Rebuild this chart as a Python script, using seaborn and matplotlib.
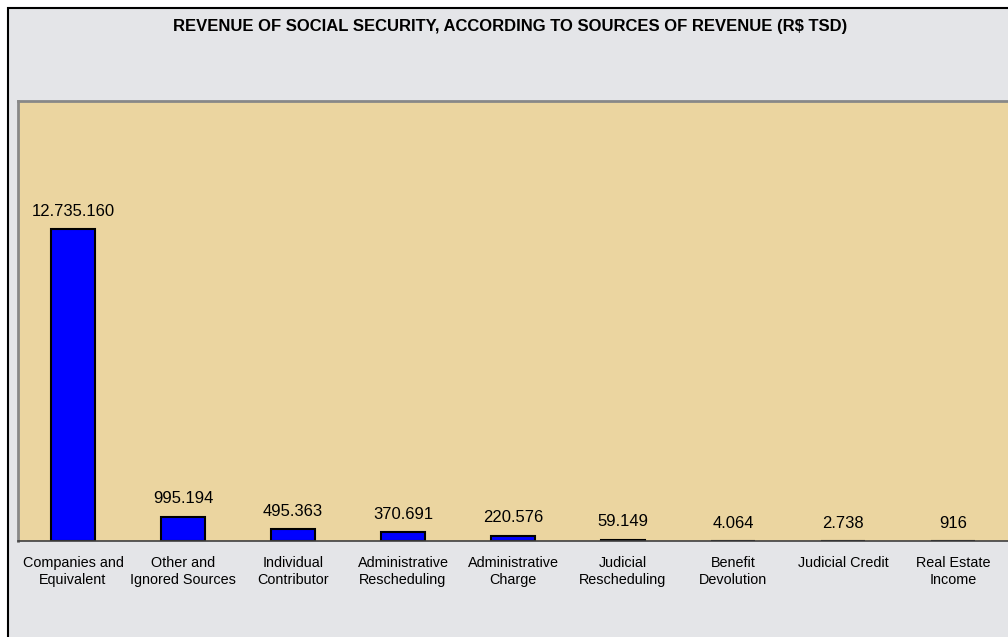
import seaborn as sns
import matplotlib.pyplot as plt
import pandas as pd
from matplotlib.patches import Rectangle

fontes = ["Companies and\nEquivalent", "Other and\nIgnored Sources", "Individual\nContributor",
          "Administrative\nRescheduling", "Administrative\nCharge", "Judicial\nRescheduling",
          "Benefit\nDevolution", "Judicial Credit", "Real Estate\nIncome"]
receita = [12735160, 995194, 495363, 370691, 220576, 59149, 4064, 2738, 916]

if __name__ == '__main__':
    dados = pd.DataFrame({"Fonte": fontes, "Receita": receita})

    sns.set_style("white")
    plt.rcParams['font.family'] = ['Liberation Sans', 'DejaVu Sans']
    plt.rcParams['text.color'] = 'black'
    plt.rcParams['xtick.color'] = 'black'

    fig = plt.figure(figsize=(10.08, 6.37), dpi=100, facecolor="white")
    # moldura externa (fundo "marmore")
    fig.patches.append(Rectangle((8 / 1008, -0.1), 1.2, 1 - 8 / 637 + 0.1,
                                 transform=fig.transFigure, facecolor="#e4e5e8",
                                 edgecolor="black", linewidth=1.5, zorder=-5))

    graf = fig.add_axes([18 / 1008, 96 / 637, 1 - 18 / 1008, 440 / 637])
    graf.set_facecolor("#ebd5a0")

    sns.barplot(data=dados, x="Fonte", y="Receita", color="#0000ff", saturation=1,
                width=0.4, edgecolor="black", linewidth=1.5, ax=graf)

    # rotulos com os valores
    for i, v in enumerate(receita):
        graf.annotate(f"{v:,}".replace(",", "."), (i, v), xytext=(0, 9.5),
                      textcoords="offset points", ha="center", va="baseline",
                      fontsize=12, color="black")

    graf.set_xlim(-0.5, len(fontes) - 0.5)
    graf.set_ylim(0, 17960000)
    graf.set_yticks([])
    graf.set_xlabel("")
    graf.set_ylabel("")
    graf.tick_params(axis="x", which="major", length=0, labelsize=10.4, pad=10.5, labelcolor="black")
    for lbl in graf.get_xticklabels():
        lbl.set_linespacing(1.3)
    graf.set_xticks([i - 0.5 for i in range(len(fontes) + 1)], minor=True)
    graf.tick_params(axis="x", which="minor", length=5, width=1, color="#404040", direction="out")

    for lado in ["top", "left"]:
        graf.spines[lado].set_color("#888888")
        graf.spines[lado].set_linewidth(2)
    graf.spines["bottom"].set_color("#404040")
    graf.spines["bottom"].set_linewidth(1.2)
    graf.spines["right"].set_visible(False)

    fig.text(510 / 1008, 1 - 26 / 637, "REVENUE OF SOCIAL SECURITY, ACCORDING TO SOURCES OF REVENUE (R$ TSD)",
             ha="center", va="center", fontsize=12, fontweight="bold", color="black")

    fig.savefig("out.png", dpi=100)
    plt.close(fig)
